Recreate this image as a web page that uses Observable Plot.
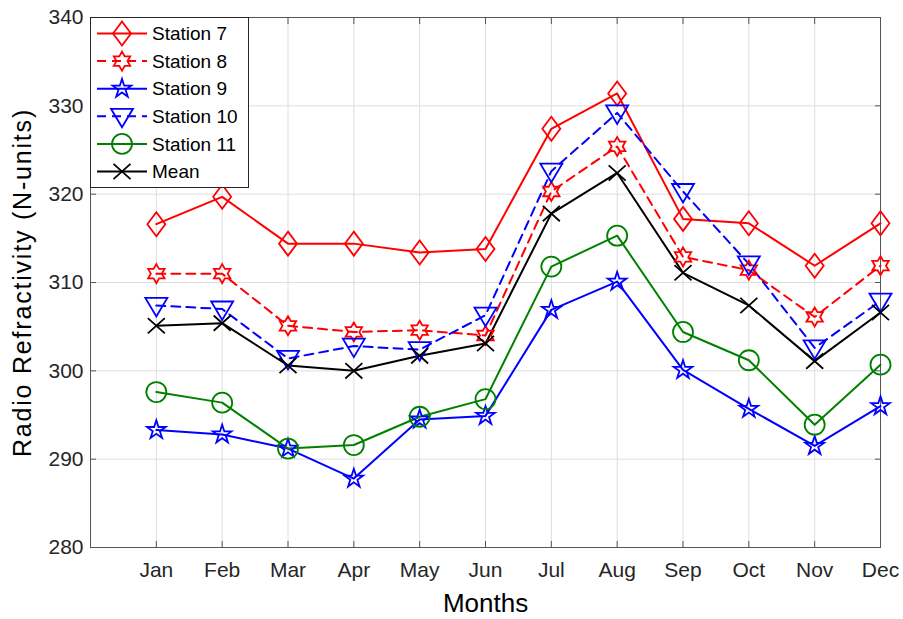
<!DOCTYPE html>
<html>
<head>
<meta charset="utf-8">
<script src="https://cdn.jsdelivr.net/npm/d3@7"></script>
<script src="https://cdn.jsdelivr.net/npm/@observablehq/plot@0.6"></script>
<style>
  html, body { margin: 0; padding: 0; background: #fff; }
  #chart { width: 903px; height: 619px; }
</style>
</head>
<body>
<div id="chart"></div>
<script>
const months = ["Jan","Feb","Mar","Apr","May","Jun","Jul","Aug","Sep","Oct","Nov","Dec"];
const seriesNames = ["Station 7","Station 8","Station 9","Station 10","Station 11","Mean"];
const station7  = [316.6, 319.7, 314.4, 314.4, 313.4, 313.8, 327.4, 331.4, 317.2, 316.7, 311.9, 316.7];
const station8  = [311.0, 311.0, 305.1, 304.4, 304.6, 304.0, 320.3, 325.4, 312.9, 311.4, 306.1, 311.9];
const station9  = [293.3, 292.8, 291.2, 287.8, 294.5, 294.9, 306.9, 310.1, 300.1, 295.7, 291.5, 296.0];
const station10 = [307.4, 307.0, 301.4, 302.8, 302.4, 306.3, 322.6, 329.2, 320.3, 312.1, 302.6, 307.9];
const station11 = [297.6, 296.4, 291.2, 291.6, 294.8, 296.8, 311.8, 315.3, 304.4, 301.2, 293.9, 300.7];
const meanVals  = [305.1, 305.4, 300.6, 300.0, 301.7, 303.1, 317.8, 322.4, 311.1, 307.4, 301.1, 306.6];
const yTicks = [280, 290, 300, 310, 320, 330, 340];

const valueLists = [station7, station8, station9, station10, station11, meanVals];
const colors = ["#ff0000", "#ff0000", "#0000ff", "#0000ff", "#008000", "#000000"];
const dashes = [null, "9,6", null, "9,6", null, null];

// custom marker symbols (size = pi r^2)
const rOf = s => Math.sqrt(s / Math.PI);
const symDiamond = { draw(c, s) { const r = rOf(s); c.moveTo(0, -1.2*r); c.lineTo(0.9*r, 0); c.lineTo(0, 1.2*r); c.lineTo(-0.9*r, 0); c.closePath(); } };
const symHexagram = { draw(c, s) { const R = rOf(s), ri = R / Math.sqrt(3);
  for (let i = 0; i < 12; i++) { const a = -Math.PI/2 + i*Math.PI/6, rr = i % 2 ? ri : R;
    const x = rr*Math.cos(a), y = rr*Math.sin(a); i ? c.lineTo(x, y) : c.moveTo(x, y); } c.closePath(); } };
const symPentagram = { draw(c, s) { const R = rOf(s), ri = R*0.382;
  for (let i = 0; i < 10; i++) { const a = -Math.PI/2 + i*Math.PI/5, rr = i % 2 ? ri : R;
    const x = rr*Math.cos(a), y = rr*Math.sin(a); i ? c.lineTo(x, y) : c.moveTo(x, y); } c.closePath(); } };
const symTriDown = { draw(c, s) { const r = rOf(s); c.moveTo(-1.1*r, -0.75*r); c.lineTo(1.1*r, -0.75*r); c.lineTo(0, 1.1*r); c.closePath(); } };
const symCircle = { draw(c, s) { const r = rOf(s); c.moveTo(r, 0); c.arc(0, 0, r, 0, 2*Math.PI); } };
const symTimes = { draw(c, s) { const r = rOf(s); c.moveTo(-r, -0.9*r); c.lineTo(r, 0.9*r); c.moveTo(-r, 0.9*r); c.lineTo(r, -0.9*r); } };
const symbols = [symDiamond, symHexagram, symPentagram, symTriDown, symCircle, symTimes];
const sizes = [10, 9.5, 9.8, 10, 10, 8.5];

const series = seriesNames.map((name, i) => ({
  name, color: colors[i], dash: dashes[i], symbol: symbols[i], r: sizes[i],
  data: valueLists[i].map((v, j) => ({month: j + 1, value: v}))
}));

const monthIdx = months.map((m, i) => i + 1);
const font = "'Liberation Sans', Arial, Helvetica, sans-serif";
const yLabel = "Radio Refractivity (N-units)";

const marks = [
  Plot.gridX(monthIdx, {stroke: "#dedede", strokeOpacity: 1}),
  Plot.gridY(yTicks, {stroke: "#dedede", strokeOpacity: 1}),
  Plot.axisX(monthIdx, {tickSize: 0, tickPadding: 15, tickFormat: d => months[d - 1], fontSize: 21, label: null, color: "#262626"}),
  Plot.axisX(monthIdx, {anchor: "bottom", tickSize: -6, tickFormat: () => "", label: null, stroke: "#555"}),
  Plot.axisX(monthIdx, {anchor: "top", tickSize: -6, tickFormat: () => "", label: null, stroke: "#555"}),
  Plot.axisY(yTicks, {tickSize: 0, tickPadding: 7, fontSize: 21, label: null, color: "#262626"}),
  Plot.axisY(yTicks, {anchor: "left", tickSize: -6, tickFormat: () => "", label: null, stroke: "#555"}),
  Plot.axisY(yTicks, {anchor: "right", tickSize: -6, tickFormat: () => "", label: null, stroke: "#555"}),
  Plot.frame({stroke: "#555", strokeWidth: 1})
];
for (const s of series) {
  marks.push(Plot.line(s.data, {x: "month", y: "value", stroke: s.color, strokeWidth: 2,
    strokeDasharray: s.dash || undefined}));
}
for (const s of series) {
  marks.push(Plot.dot(s.data, {x: "month", y: "value", stroke: s.color, fill: "none",
    strokeWidth: 1.8, symbol: s.symbol, r: s.r}));
}
marks.push(Plot.text([yLabel], {frameAnchor: "left", dx: -68, rotate: -90,
  fontSize: 25, fill: "#000", textAnchor: "middle", lineAnchor: "middle"}));
marks.push(Plot.text(["Months"], {frameAnchor: "bottom", dy: 56, fontSize: 26, fill: "#000", lineAnchor: "middle"}));

const chart = Plot.plot({
  width: 903, height: 619,
  marginLeft: 90, marginRight: 23, marginTop: 17, marginBottom: 72,
  style: {fontFamily: font, background: "#fff", color: "#262626"},
  x: {domain: [0, 12], axis: null},
  y: {domain: [280, 340], axis: null},
  marks
});
document.getElementById("chart").appendChild(chart);

const svg = d3.select(chart);
svg.selectAll("text").filter(function() { return this.textContent === yLabel; })
  .attr("letter-spacing", "1.8px");

// Legend drawn inside the SVG from the series list
const lx = 90, ly = 17, lw = 158, lh = 170, rowH = 27.6, row0 = 16.5;
const lg = svg.append("g").attr("font-family", font).attr("font-size", 19).attr("text-anchor", "start");
lg.append("rect").attr("x", lx + 0.5).attr("y", ly + 0.5).attr("width", lw).attr("height", lh)
  .attr("fill", "#fff").attr("stroke", "#262626").attr("stroke-width", 1);
series.forEach((s, i) => {
  const cy = ly + row0 + i * rowH;
  const g = lg.append("g");
  g.append("line").attr("x1", lx + 7).attr("x2", lx + 57).attr("y1", cy).attr("y2", cy)
    .attr("stroke", s.color).attr("stroke-width", 2).attr("stroke-dasharray", s.dash || null);
  g.append("path").attr("transform", `translate(${lx + 32},${cy})`)
    .attr("d", d3.symbol(s.symbol, Math.PI * s.r * s.r)())
    .attr("fill", "none").attr("stroke", s.color).attr("stroke-width", 1.8);
  g.append("text").attr("x", lx + 62).attr("y", cy).attr("dy", "0.35em")
    .attr("text-anchor", "start").attr("fill", "#000").text(s.name);
});
</script>
</body>
</html>
